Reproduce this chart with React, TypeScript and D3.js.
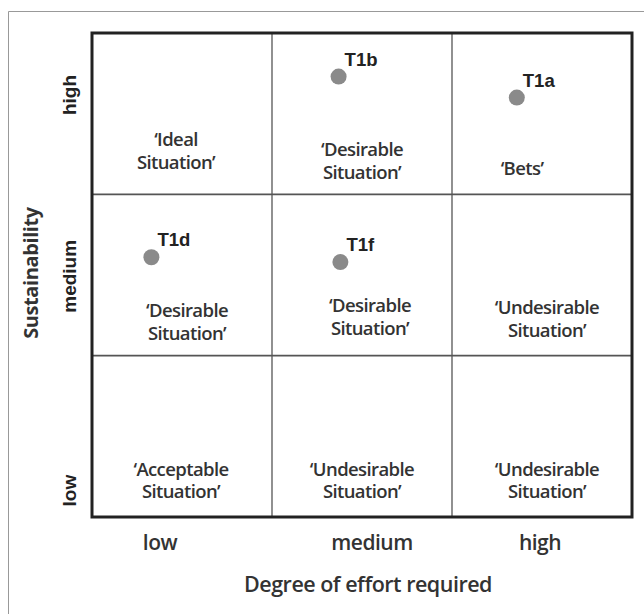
import React from 'react';
import * as d3 from 'd3';

const effortLevels = ['low', 'medium', 'high'];
const sustainLevels = ['high', 'medium', 'low'];

const pointNames = ['T1b', 'T1a', 'T1d', 'T1f'];
const pointEffort = [1.37, 2.36, 0.33, 1.38];
const pointSustain = [2.73, 2.6, 1.61, 1.58];

// one entry per cell, rows top to bottom, cols left to right
const cellLabels = [
  ['‘Ideal', 'Situation’'], ['‘Desirable', 'Situation’'], ['‘Bets’'],
  ['‘Desirable', 'Situation’'], ['‘Desirable', 'Situation’'], ['‘Undesirable', 'Situation’'],
  ['‘Acceptable', 'Situation’'], ['‘Undesirable', 'Situation’'], ['‘Undesirable', 'Situation’'],
];

// label nudges inside each cell (dx from cell centre, first baseline from cell top)
const cellNudge = [
  [-6, 113], [0, 123], [-20, 142],
  [5, 123], [8, 118], [5, 120],
  [-1, 120], [0, 120], [5, 120],
];

const W = 644, H = 614;
const left = 92, right = 632, top = 33, bottom = 517;

export default function App() {
  const xb = d3.scaleBand<string>().domain(effortLevels).range([left, right]);
  const yb = d3.scaleBand<string>().domain(sustainLevels).range([top, bottom]);
  const x = d3.scaleLinear().domain([0, 3]).range([left, right]);
  const y = d3.scaleLinear().domain([0, 3]).range([bottom, top]);
  const bw = xb.bandwidth();
  const calibri = '"Open Sans", Lato, sans-serif';
  const arial = '"Liberation Sans", Arial, sans-serif';

  return (
    <svg width={W} height={H} style={{ position: 'absolute', left: 0, top: 0, background: '#fff' }}>
      <rect x={0} y={0} width={W} height={H} fill="#fff" />
      {/* outer frame */}
      <path d={`M8.5,${H} V11.5 H${W}`} fill="none" stroke="#999" strokeWidth={1} />

      {/* inner grid */}
      {effortLevels.slice(1).map(d => (
        <line key={'v' + d} x1={xb(d)} x2={xb(d)} y1={top} y2={bottom} stroke="#555" strokeWidth={1.3} />
      ))}
      {sustainLevels.slice(1).map(d => (
        <line key={'h' + d} x1={left} x2={right} y1={yb(d)} y2={yb(d)} stroke="#555" strokeWidth={1.6} />
      ))}
      <rect x={left} y={top} width={right - left} height={bottom - top} fill="none" stroke="#222" strokeWidth={3} />

      {/* cell labels */}
      {cellLabels.map((lines, i) => {
        const r = Math.floor(i / 3), c = i % 3;
        const cx = (xb(effortLevels[c]) as number) + bw / 2 + cellNudge[i][0];
        const cy = (yb(sustainLevels[r]) as number) + cellNudge[i][1];
        return (
          <text key={'c' + i} x={cx} y={cy} textAnchor="middle" fontFamily={calibri} fontSize={18.5}
            fontWeight={600} fill="#333" letterSpacing={-0.6}>
            {lines.map((l, j) => (
              <tspan key={j} x={cx} dy={j === 0 ? 0 : 22.5}>{l}</tspan>
            ))}
          </text>
        );
      })}

      {/* points */}
      {pointNames.map((n, i) => (
        <g key={n}>
          <circle cx={x(pointEffort[i])} cy={y(pointSustain[i])} r={8} fill="#8a8a8a" />
          <text x={x(pointEffort[i]) + 6} y={y(pointSustain[i]) - 11} fontFamily={arial} fontWeight="bold" fontSize={18.5} fill="#222">{n}</text>
        </g>
      ))}

      {/* y tick labels */}
      {sustainLevels.map(d => {
        const ty = (yb(d) as number) + (d === 'high' ? 62 : d === 'medium' ? 82 : 135);
        return (
          <text key={'yt' + d} transform={`translate(76,${ty}) rotate(-90)`} textAnchor="middle"
            fontFamily={arial} fontWeight="bold" fontSize={19} fill="#222">{d}</text>
        );
      })}
      <text transform="translate(38,273) rotate(-90)" textAnchor="middle" fontFamily={calibri}
        fontWeight="bold" fontSize={20} fill="#333" letterSpacing={-0.4}>Sustainability</text>

      {/* x tick labels */}
      {effortLevels.map(d => {
        const tx = (xb(d) as number) + bw / 2 + (d === 'low' ? -22 : d === 'medium' ? 10 : -2);
        return (
          <text key={'xt' + d} x={tx} y={550} textAnchor="middle" fontFamily={calibri} fontSize={21}
            fontWeight={600} fill="#333" letterSpacing={-0.5}>{d}</text>
        );
      })}
      <text x={368} y={592} textAnchor="middle" fontFamily={calibri} fontSize={21.5} fontWeight={600}
        fill="#333" letterSpacing={-0.5}>Degree of effort required</text>
    </svg>
  );
}
